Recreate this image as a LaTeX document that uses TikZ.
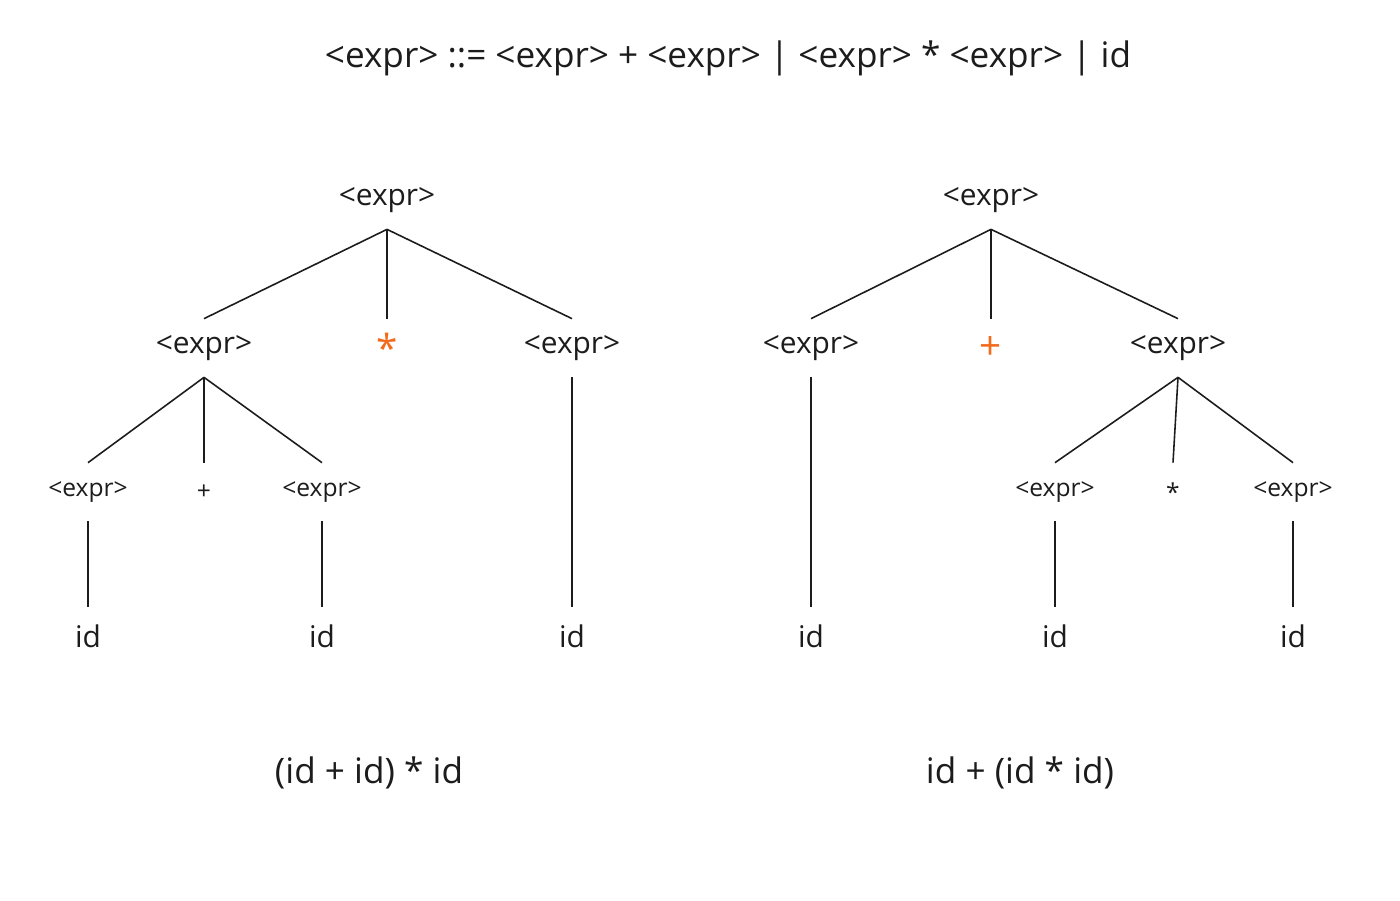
\documentclass[tikz,border=0pt]{standalone}
\usepackage{fontspec}
\setmainfont{Open Sans}
\usetikzlibrary{positioning}
\definecolor{ink}{HTML}{1C1C1C}
\definecolor{accent}{HTML}{F26B1D}
\tikzset{
  sym/.style={inner sep=0pt,minimum height=1.16cm,text=ink,font=\fontsize{17}{20}\selectfont},
  small/.style={sym,font=\fontsize{14}{17}\selectfont},
  op/.style={sym,text=accent,font=\fontsize{22}{24}\selectfont},
  branch/.style={draw=ink,line width=0.9pt}
}
\begin{document}
\begin{tikzpicture}[x=0.02cm,y=-0.02cm]
\useasboundingbox (0,0) rectangle (1400,900);
\node[text=ink,font=\fontsize{20}{24}\selectfont] (title) at (728,58) {<expr> ::= <expr> + <expr> | <expr> * <expr> | id};
% left tree: (id + id) * id
\node[sym] (lroot) at (387,200) {<expr>};
\node[sym] (la) at (204,348) {<expr>};
\node[op] (lop) at (387,348) {*};
\node[sym] (lb) at (572,348) {<expr>};
\node[small] (laa) at (88,492) {<expr>};
\node[small] (lap) at (204,492) {+};
\node[small] (lab) at (322,492) {<expr>};
\node[sym] (lid1) at (88,636) {id};
\node[sym] (lid2) at (322,636) {id};
\node[sym] (lid3) at (572,636) {id};
\draw[branch] (lroot.south) -- (la.north);
\draw[branch] (lroot.south) -- (lop.north);
\draw[branch] (lroot.south) -- (lb.north);
\draw[branch] (la.south) -- (laa.north);
\draw[branch] (la.south) -- (lap.north);
\draw[branch] (la.south) -- (lab.north);
\draw[branch] (laa.south) -- (lid1.north);
\draw[branch] (lab.south) -- (lid2.north);
\draw[branch] (lb.south) -- (lid3.north);
\node[sym,font=\fontsize{20}{24}\selectfont] (lcap) at (369,773) {(id + id) * id};
% right tree: id + (id * id)
\node[sym] (rroot) at (991,200) {<expr>};
\node[sym] (ra) at (811,348) {<expr>};
\node[op] (rop) at (991,348) {+};
\node[sym] (rb) at (1178,348) {<expr>};
\node[small] (rba) at (1055,492) {<expr>};
\node[small] (rbp) at (1173,492) {*};
\node[small] (rbb) at (1293,492) {<expr>};
\node[sym] (rid1) at (811,636) {id};
\node[sym] (rid2) at (1055,636) {id};
\node[sym] (rid3) at (1293,636) {id};
\draw[branch] (rroot.south) -- (ra.north);
\draw[branch] (rroot.south) -- (rop.north);
\draw[branch] (rroot.south) -- (rb.north);
\draw[branch] (rb.south) -- (rba.north);
\draw[branch] (rb.south) -- (rbp.north);
\draw[branch] (rb.south) -- (rbb.north);
\draw[branch] (ra.south) -- (rid1.north);
\draw[branch] (rba.south) -- (rid2.north);
\draw[branch] (rbb.south) -- (rid3.north);
\node[sym,font=\fontsize{20}{24}\selectfont] (rcap) at (1020,773) {id + (id * id)};
\end{tikzpicture}
\end{document}
